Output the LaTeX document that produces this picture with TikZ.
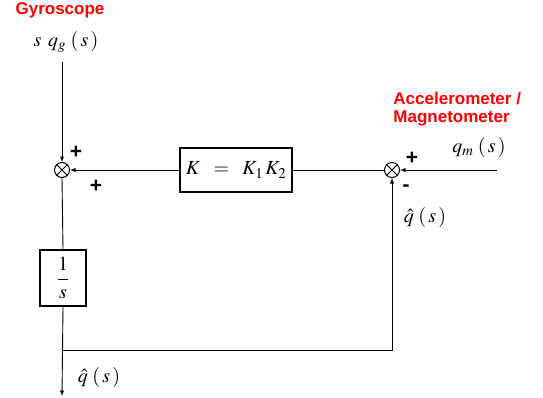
\documentclass[tikz,border=0pt]{standalone}
\usepackage{amsmath}
\usepackage{mathptmx}
\usepackage{fontspec}
\setmainfont{Liberation Serif}
\newfontfamily\labelfont{Liberation Sans}
\usepackage{tikz}
\usetikzlibrary{calc}
\definecolor{sensorred}{rgb}{1,0,0}
\tikzset{
    sumnode/.style={draw, line width=1pt, circle, minimum size=15pt, inner sep=0pt,
        path picture={\draw[line width=0.8pt] (path picture bounding box.north west) -- (path picture bounding box.south east)
            (path picture bounding box.north east) -- (path picture bounding box.south west);}},
    blockbox/.style={draw, line width=1.5pt, inner sep=0pt, font=\fontsize{20}{24}\selectfont},
    sensorlabel/.style={text=sensorred, font=\labelfont\bfseries\fontsize{17}{18.5}\selectfont, inner sep=0pt},
    signlabel/.style={font=\labelfont\bfseries\fontsize{21}{21}\selectfont, inner sep=0pt},
    mathlabel/.style={font=\fontsize{20}{24}\selectfont, inner sep=0pt}
}

\begin{document}
\begin{tikzpicture}[x=1pt, y=-1pt, >=latex, line width=0.9pt]
    \useasboundingbox (0,0) rectangle (543,397);

    % the two summing junctions
    \node[sumnode] (sumL) at (62,170) {};
    \node[sumnode] (sumR) at (392,170) {};

    % gain block and integrator
    \node[blockbox, minimum width=112pt, minimum height=44pt] (gain) at (236,170) {$K \;\;=\;\; K_{1}\,K_{2}$};
    \node[blockbox, minimum width=46pt, minimum height=56pt] (integ) at (63,278) {$\dfrac{1}{s}$};

    % gyroscope input
    \node[sensorlabel] (gyro) at (60,10) {Gyroscope};
    \node[mathlabel] (gyroin) at (66,42) {$s\;\,q_{g}\;(\,s\,)$};
    \coordinate (gyrostart) at (62,62);
    \draw[->] (gyrostart) -- (sumL.north);

    % accelerometer / magnetometer input
    \node[sensorlabel, align=left, anchor=west] (accel) at (393,109) {Accelerometer /\\Magnetometer};
    \node[mathlabel] (accelin) at (479,147) {$q_{m}\;(\,s\,)$};
    \coordinate (accelstart) at (497,170);
    \draw[->] (accelstart) -- (sumR.east);

    % forward path
    \draw (sumR.west) -- (gain.east);
    \draw[->] (gain.west) -- (sumL.east);
    \draw (sumL.south) -- (integ.north);

    % output and feedback
    \coordinate (outend) at (62,396);
    \coordinate (tap) at (62,350);
    \draw[->] (integ.south) -- (outend);
    \draw[->] (tap) -| (sumR.south);
    \node[mathlabel] (outlabel) at (99,377) {$\hat{q}\;(\,s\,)$};
    \node[mathlabel] (fblabel) at (425,217) {$\hat{q}\;(\,s\,)$};

    % signs at the junctions
    \node[signlabel] (signLa) at (76,152) {+};
    \node[signlabel] (signLb) at (96,186) {+};
    \node[signlabel] (signRa) at (412,158) {+};
    \node[signlabel] (signRb) at (406,188) {-};
\end{tikzpicture}
\end{document}
